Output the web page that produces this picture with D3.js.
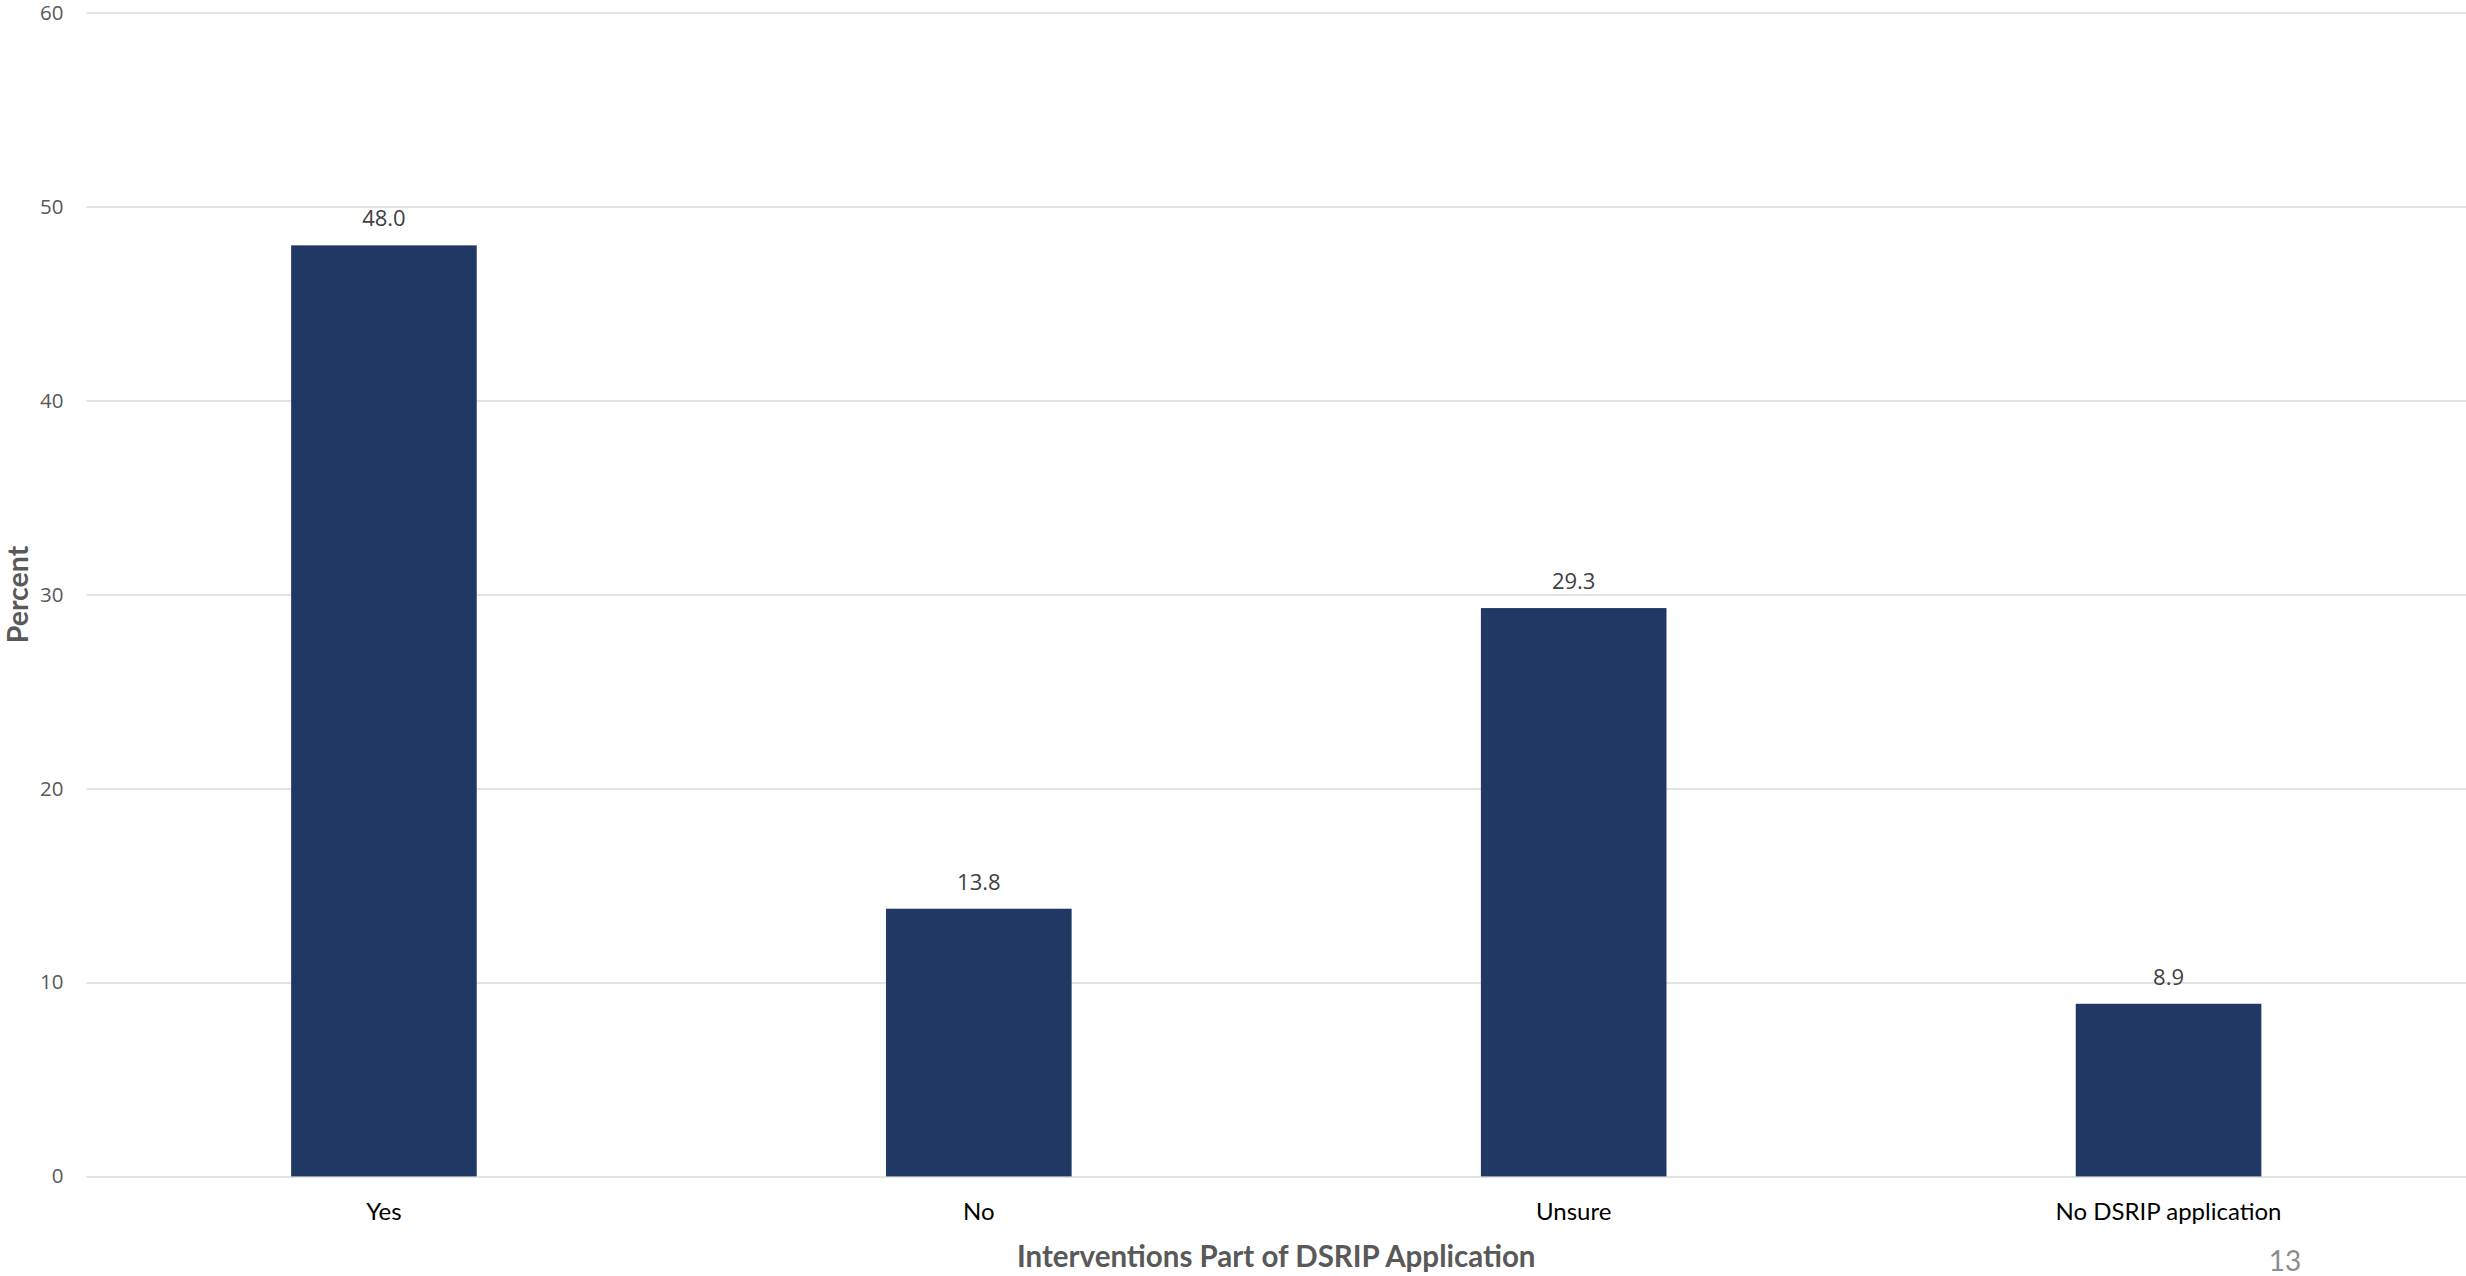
<!DOCTYPE html>
<html><head><meta charset="utf-8">
<script src="https://cdn.jsdelivr.net/npm/d3@7"></script>
<style>html,body{margin:0;padding:0;background:#fff;overflow:hidden}</style>
</head><body>
<script>
const categories = ["Yes", "No", "Unsure", "No DSRIP application"];
const values = [48.0, 13.8, 29.3, 8.9];
const yTicks = [0, 10, 20, 30, 40, 50, 60];
const xTitle = "Interventions Part of DSRIP Application";
const yTitle = "Percent";
const pageNumber = "13";

const W = 2466, H = 1276;
const svg = d3.select("body").append("svg").attr("width", W).attr("height", H);
const mLeft = 86.5, mRight = 2466, mTop = 12.6, mBottom = 1176.4;

const x = d3.scaleBand().domain(categories).range([mLeft, mRight]).paddingInner(0.688).paddingOuter(0.344);
const y = d3.scaleLinear().domain([0, 60]).range([mBottom, mTop]);

const yAxis = d3.axisLeft(y).tickValues(yTicks).tickSize(-(mRight - mLeft)).tickPadding(23);
const gy = svg.append("g").attr("transform", `translate(${mLeft},0)`).call(yAxis);
gy.select(".domain").remove();
gy.selectAll(".tick line").attr("stroke", "#d9d9d9").attr("stroke-width", 1.5);
gy.selectAll(".tick text").attr("fill", "#595959").style("font-family", "'Open Sans', sans-serif").style("font-size", "20.5px");

svg.append("g").selectAll("rect").data(values).join("rect")
  .attr("x", (d, i) => x(categories[i]))
  .attr("width", x.bandwidth())
  .attr("y", d => y(d))
  .attr("height", d => y(0) - y(d))
  .attr("fill", "#213864");

svg.append("g").selectAll("text").data(values).join("text")
  .attr("x", (d, i) => x(categories[i]) + x.bandwidth() / 2)
  .attr("y", d => y(d) - 19)
  .attr("text-anchor", "middle")
  .attr("fill", "#404040")
  .style("font-family", "'Open Sans', sans-serif").style("font-size", "22px")
  .text(d => d.toFixed(1));

const xAxis = d3.axisBottom(x).tickSize(0).tickPadding(27);
const gx = svg.append("g").attr("transform", `translate(0,${mBottom})`).call(xAxis);
gx.select(".domain").remove();
gx.selectAll(".tick text").attr("fill", "#000").style("font-family", "Lato, sans-serif").style("font-size", "24px");

svg.append("text").attr("x", (mLeft + mRight) / 2).attr("y", 1267)
  .attr("text-anchor", "middle").attr("fill", "#595959")
  .style("font-family", "Lato, sans-serif").style("font-weight", "bold").style("font-size", "29.5px")
  .text(xTitle);

svg.append("text").attr("transform", `translate(28,${(mTop + mBottom) / 2}) rotate(-90)`)
  .attr("text-anchor", "middle").attr("fill", "#595959")
  .style("font-family", "Lato, sans-serif").style("font-weight", "bold").style("font-size", "28.5px")
  .text(yTitle);

svg.append("text").attr("x", 2285).attr("y", 1271).attr("text-anchor", "middle")
  .attr("fill", "#8c8c8c").style("font-family", "Lato, sans-serif").style("font-size", "28px")
  .text(pageNumber);
</script>
</body></html>
